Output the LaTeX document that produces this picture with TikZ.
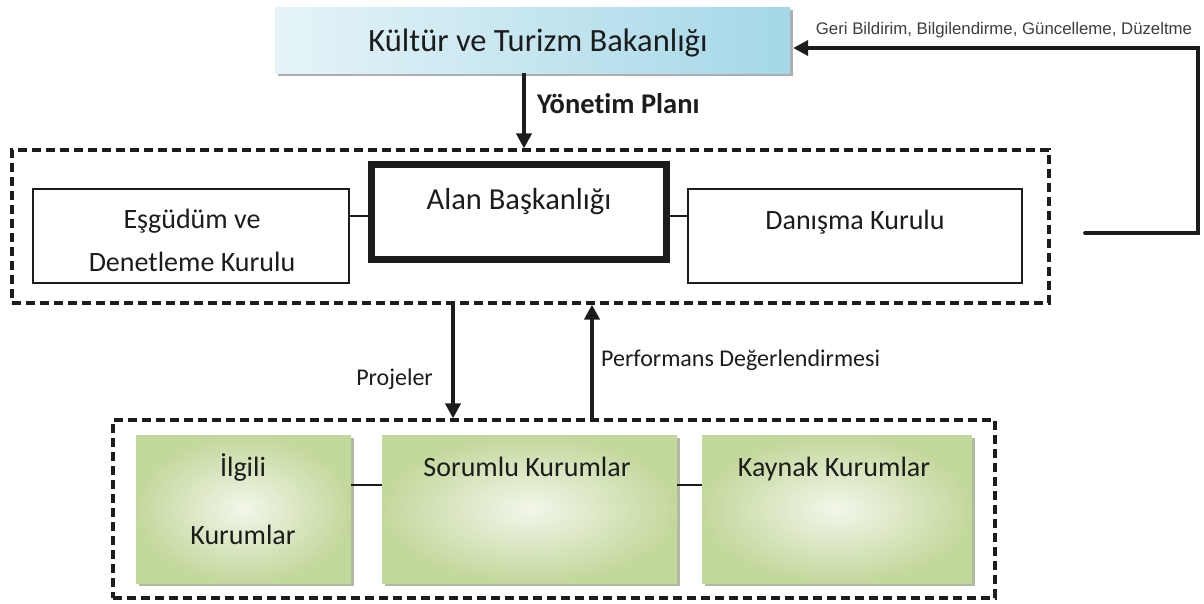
\documentclass[tikz,border=0pt]{standalone}
\usepackage{fontspec}
\setmainfont{Carlito}[Ligatures={TeX,NoCommon}]
\newfontfamily\arialf{Liberation Sans}
\usetikzlibrary{arrows.meta,shadows}
\definecolor{ink}{HTML}{1C1C1C}
\definecolor{blueL}{HTML}{E6F4F8}
\definecolor{blueR}{HTML}{A4D7E8}
\definecolor{greenIn}{HTML}{F2F6EA}
\definecolor{greenOut}{HTML}{C3D89C}
\definecolor{greenSh}{HTML}{9DA88A}
\tikzset{
  whitebox/.style={draw=ink, line width=2.4pt, fill=white, inner sep=0pt},
  headbox/.style={draw=ink, line width=7pt, fill=white, inner sep=0pt},
  greenbox/.style={inner sep=0pt, shading=radial, inner color=greenIn, outer color=greenOut,
     drop shadow={shadow xshift=2.5pt, shadow yshift=-3pt, fill=greenSh, opacity=0.8}},
  topbox/.style={inner sep=0pt, left color=blueL, right color=blueR,
     drop shadow={shadow xshift=3pt, shadow yshift=-3pt, fill=gray!70, opacity=0.9}},
  dashbox/.style={draw=ink, line width=3.2pt, dash pattern=on 9pt off 5pt, inner sep=0pt},
  arr/.style={draw=ink, line width=3.8pt, -{Triangle[width=15pt,length=15pt]}},
  link/.style={draw=ink, line width=2.4pt},
  txt/.style={text=ink, inner sep=0pt, anchor=base, font=\fontsize{28}{32}\selectfont},
}
\begin{document}
\begin{tikzpicture}[x=1pt,y=-1pt]
\useasboundingbox[fill=white] (0,0) rectangle (1204,603);

% top box
\node[topbox, minimum width=515pt, minimum height=66pt] (ktb) at (532.5,40) {};
\node[txt, font=\fontsize{32.5}{36}\selectfont] (tktb) at (538,51) {Kültür ve Turizm Bakanlığı};

% upper dashed group
\node[dashbox, minimum width=1037pt, minimum height=153pt] (updash) at (530.5,226.5) {};
\node[whitebox, minimum width=316pt, minimum height=94pt] (esg) at (191,236) {};
\node[txt] (tesg1) at (192,228) {Eşgüdüm ve};
\node[txt] (tesg2) at (192,271) {Denetleme Kurulu};
\node[headbox, minimum width=295pt, minimum height=95pt] (alan) at (519,212) {};
\node[txt, font=\fontsize{30.5}{34}\selectfont] (talan) at (519,209) {Alan Başkanlığı};
\node[whitebox, minimum width=334pt, minimum height=94pt] (dan) at (855,236) {};
\node[txt] (tdan) at (855,229) {Danışma Kurulu};

\draw[link] ([yshift=20pt]esg.east) -- ([yshift=20pt]esg.east -| alan.west);
\draw[link] ([yshift=20pt]dan.west) -- ([yshift=20pt]dan.west -| alan.east);

% Yönetim Planı arrow
\draw[arr] (ktb.south -| 524,0) -- (updash.north -| 524,0);
\node[txt, anchor=base west, font=\bfseries\fontsize{28.5}{32}\selectfont] (typ) at (537,113) {Yönetim Planı};

% feedback loop
\coordinate (fbstart) at (1085,233);
\coordinate (fbcorner) at (1198,48);
\draw[arr, line cap=round] (fbstart) -| (fbcorner) -- ([xshift=3pt,yshift=-8pt]ktb.east);
\node[inner sep=0pt, anchor=base, text=ink!85, font=\arialf\fontsize{16.8}{19}\selectfont] (tfb) at (1004,34)
  {Geri Bildirim, Bilgilendirme, Güncelleme, Düzeltme};

% lower dashed group
\node[dashbox, minimum width=882pt, minimum height=178pt] (lodash) at (554,509) {};
\node[greenbox, minimum width=215pt, minimum height=148pt] (ilg) at (243.5,509) {};
\node[txt] (tilg1) at (243,476) {İlgili};
\node[txt] (tilg2) at (243,544) {Kurumlar};
\node[greenbox, minimum width=295pt, minimum height=148pt] (sor) at (529.5,509) {};
\node[txt] (tsor) at (527,476) {Sorumlu Kurumlar};
\node[greenbox, minimum width=270pt, minimum height=148pt] (kay) at (837,509) {};
\node[txt] (tkay) at (834,476) {Kaynak Kurumlar};

\draw[link] ([yshift=24pt]ilg.east) -- ([yshift=24pt]ilg.east -| sor.west);
\draw[link] ([yshift=24pt]sor.east) -- ([yshift=24pt]sor.east -| kay.west);

% Projeler / Performans arrows
\coordinate (projx) at (453,0);
\coordinate (perfx) at (592,0);
\draw[arr] (updash.south -| projx) -- (lodash.north -| projx);
\draw[arr] (lodash.north -| perfx) -- (updash.south -| perfx);
\node[txt, anchor=base east, font=\fontsize{24}{28}\selectfont] (tproj) at (433,385) {Projeler};
\node[txt, anchor=base west, font=\fontsize{24}{28}\selectfont] (tperf) at (601,366) {Performans Değerlendirmesi};
\end{tikzpicture}
\end{document}
